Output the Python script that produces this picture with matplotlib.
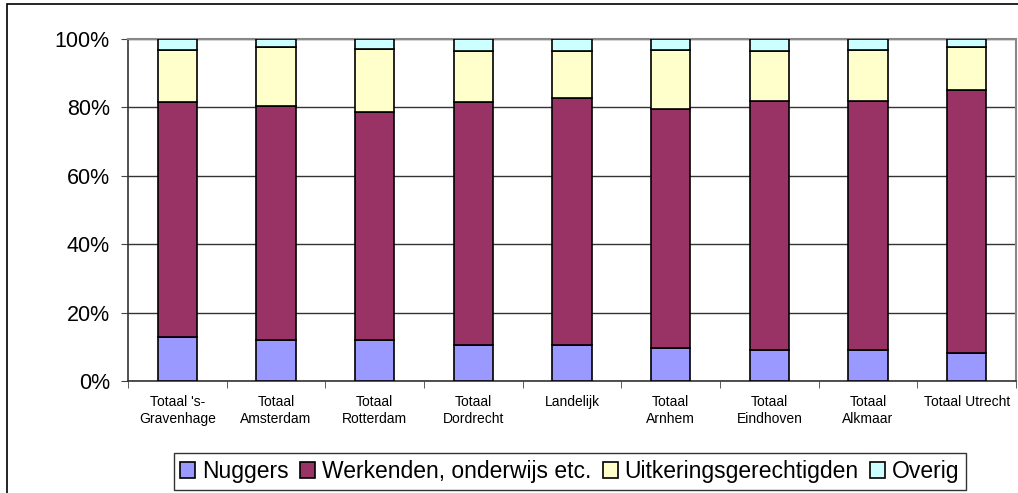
import matplotlib.pyplot as plt
import numpy as np
from matplotlib.patches import Rectangle

plt.rcParams['font.family'] = ['Liberation Sans', 'DejaVu Sans']

# categorieën en aandelen per groep (in %)
categories = ["Totaal 's-\nGravenhage", "Totaal\nAmsterdam", "Totaal\nRotterdam",
              "Totaal\nDordrecht", "Landelijk", "Totaal\nArnhem",
              "Totaal\nEindhoven", "Totaal\nAlkmaar", "Totaal Utrecht"]
nuggers = [12.9, 12.0, 12.0, 10.5, 10.5, 9.6, 9.1, 9.1, 8.3]
werkenden = [68.7, 68.4, 66.7, 71.0, 72.2, 69.9, 72.7, 72.7, 76.7]
uitkering = [15.2, 17.3, 18.5, 15.0, 13.7, 17.4, 14.6, 15.1, 12.7]
overig = [3.2, 2.3, 2.8, 3.5, 3.6, 3.1, 3.6, 3.1, 2.3]

series = [("Nuggers", nuggers, "#9999FF"),
          ("Werkenden, onderwijs etc.", werkenden, "#993366"),
          ("Uitkeringsgerechtigden", uitkering, "#FFFFCC"),
          ("Overig", overig, "#CCFFFF")]

fig = plt.figure(figsize=(10.18, 4.93), dpi=100)
ax = fig.add_axes([128 / 1018, 1 - 381 / 493, (1016 - 128) / 1018, (381 - 39) / 493])

x = np.arange(len(categories))
bottom = np.zeros(len(categories))
for name, vals, col in series:
    ax.bar(x, vals, width=0.4, bottom=bottom, color=col, edgecolor="black",
           linewidth=1.2, label=name, zorder=3)
    bottom += np.array(vals)

ax.set_xlim(-0.5, len(categories) - 0.5)
ax.set_ylim(0, 100)
ax.set_yticks(np.arange(0, 101, 20))
ax.set_yticklabels([f"{v}%" for v in range(0, 101, 20)], fontsize=15.5)
ax.set_xticks(x)
ax.set_xticklabels(categories, fontsize=10, linespacing=1.3)
ax.tick_params(axis="x", length=0, pad=10)
ax.set_xticks(np.arange(-0.5, len(categories)), minor=True)
ax.tick_params(axis="x", which="minor", length=5, color="#444444")
ax.tick_params(axis="y", length=5, pad=8, color="#444444")
ax.yaxis.grid(True, color="#333333", linewidth=1.0, zorder=0)

for s in ["left", "bottom"]:
    ax.spines[s].set_color("#333333")
    ax.spines[s].set_linewidth(1.2)
for s in ["top", "right"]:
    ax.spines[s].set_color("#888888")
    ax.spines[s].set_linewidth(1.5)

leg = fig.legend(loc="lower center", bbox_to_anchor=(570 / 1018, 3 / 493), ncol=4,
                 fontsize=16.5, frameon=True, fancybox=False, edgecolor="black",
                 handlelength=0.65, handleheight=0.65, handletextpad=0.3,
                 columnspacing=0.5, borderpad=0.3, borderaxespad=0)
leg.get_frame().set_linewidth(1.0)

# kader rond het grafiekgebied
fig.patches.append(Rectangle((7 / 1018, -0.1), 1.2, 1 - 4 / 493 + 0.1, transform=fig.transFigure,
                             fill=False, edgecolor="black", linewidth=1.2))

fig.savefig("out.png", dpi=100)
